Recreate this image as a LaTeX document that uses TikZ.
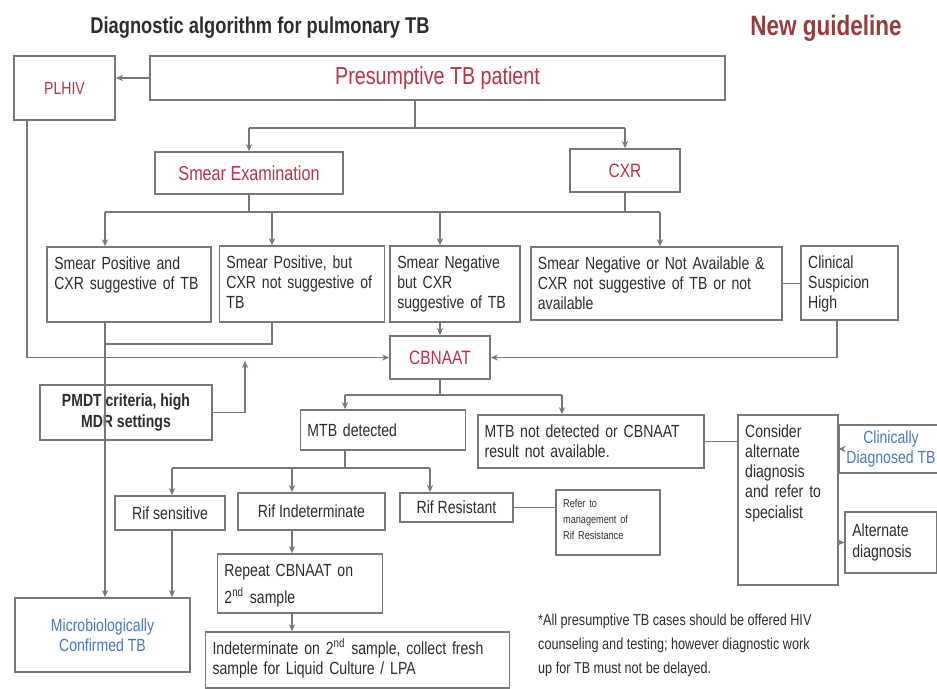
\documentclass[tikz,border=0pt]{standalone}
\usepackage{fontspec}
\setmainfont{Liberation Sans}[FakeStretch=0.8]
\usetikzlibrary{arrows.meta, positioning}
\definecolor{boxgray}{RGB}{120,120,120}
\definecolor{tbred}{RGB}{185,50,70}
\definecolor{guidered}{RGB}{150,60,60}
\definecolor{tbblue}{RGB}{70,120,190}
\definecolor{txtgray}{RGB}{45,45,45}

\tikzstyle{box} = [rectangle, draw=boxgray, line width=1pt, text=txtgray,
    font=\fontsize{10}{11.5}\selectfont, inner xsep=4pt]
\tikzstyle{cbox} = [box, align=center]
\tikzstyle{lbox} = [box, align=left, text height=7.5pt, inner ysep=5pt]
\tikzstyle{line} = [draw=boxgray, line width=0.8pt]
\tikzstyle{arrow} = [line, -{Stealth[length=4pt,width=3.5pt]}]

\begin{document}
\begin{tikzpicture}[x=0.02cm, y=-0.02cm]
    \useasboundingbox (0,0) rectangle (937,689);

        % Titles
        \node (title) [text=txtgray, font=\fontsize{13}{15}\selectfont\bfseries] at (260,28) {Diagnostic algorithm for pulmonary TB};
        \node (guide) [text=guidered, font=\fontsize{16}{18}\selectfont\bfseries] at (826,28) {New guideline};

        % Nodes
        \node (plhiv) [cbox, text=tbred, minimum width=2.02cm, minimum height=1.28cm] at (64.5,88) {PLHIV};
        \node (pres) [cbox, text=tbred, font=\fontsize{14}{16}\selectfont, minimum width=11.5cm, minimum height=0.88cm] at (437.5,78) {Presumptive TB patient};

        \node (smear) [cbox, text=tbred, font=\fontsize{11.5}{13}\selectfont, minimum width=3.76cm, minimum height=0.84cm] at (249,173) {Smear Examination};
        \node (cxr) [cbox, text=tbred, font=\fontsize{11}{13}\selectfont, minimum width=2.2cm, minimum height=0.86cm] at (625,170.5) {CXR};

        \node (sp1) [lbox, text width=85pt, text depth=25pt] at (129,284.5) {Smear Positive and\\CXR suggestive of TB};
        \node (sp2) [lbox, text width=86pt, text depth=25.6pt] at (302,284) {Smear Positive, but\\CXR not suggestive of\\TB};
        \node (sn1) [lbox, text width=65.7pt, text depth=25.6pt] at (455,284) {Smear Negative\\but CXR\\suggestive of TB};
        \node (sn2) [lbox, text width=135pt, text depth=23.9pt] at (656.5,283.5) {Smear Negative or Not Available \&\\CXR not suggestive of TB or not\\available};
        \node (clin) [lbox, text width=47pt, text depth=24.5pt] at (849.5,283) {Clinical\\Suspicion\\High};

        \node (cbnaat) [cbox, text=tbred, font=\fontsize{11}{13}\selectfont, minimum width=2cm, minimum height=0.86cm] at (440,357.5) {CBNAAT};
        \node (pmdt) [cbox, font=\fontsize{10}{11.5}\selectfont\bfseries, minimum width=3.44cm, minimum height=1.1cm] at (126,412.5) {PMDT criteria, high\\MDR settings};

        \node (mtbd) [box, align=left, text width=86pt, minimum height=0.8cm] at (383,430) {MTB detected};
        \node (mtbn) [lbox, text width=121pt, text depth=12.5pt] at (591,441.5) {MTB not detected or CBNAAT\\result not available.};
        \node (cons) [lbox, text width=48.7pt, text depth=78.9pt] at (788,500) {Consider\\alternate\\diagnosis\\and refer to\\specialist};
        \node (clindx) [cbox, text=tbblue, minimum width=1.8cm, minimum height=0.92cm] at (891,449) {Clinically\\Diagnosed TB};
        \node (altdx) [box, align=left, text width=44pt, minimum height=1.22cm] at (891,542.5) {Alternate\\diagnosis};

        \node (rifs) [cbox, minimum width=2.2cm, minimum height=0.68cm] at (170,513) {Rif sensitive};
        \node (rifi) [cbox, minimum width=2.94cm, minimum height=0.74cm] at (311.5,511.5) {Rif Indeterminate};
        \node (rifr) [cbox, minimum width=2.26cm, minimum height=0.58cm] at (456.5,507.5) {Rif Resistant};
        \node (refer) [box, align=left, font=\fontsize{6.5}{9}\selectfont, text width=51pt, text height=5pt, text depth=21.8pt, inner ysep=5pt] at (608,522.5) {Refer to\\management of\\Rif Resistance};

        \node (micro) [cbox, text=tbblue, minimum width=3.5cm, minimum height=1.48cm] at (102.5,635) {Microbiologically\\Confirmed TB};
        \node (repeat) [lbox, text width=86pt, text depth=16pt] at (300,583.5) {Repeat CBNAAT on\\[4pt]2\textsuperscript{nd} sample};
        \node (indet) [lbox, text width=165pt, text depth=14.2pt] at (357.5,660) {Indeterminate on 2\textsuperscript{nd} sample, collect fresh\\sample for Liquid Culture / LPA};

        \node (note) [anchor=north west, align=left, text=txtgray, font=\fontsize{9}{13.5}\selectfont] at (532,608) {*All presumptive TB cases should be offered HIV\\counseling and testing; however diagnostic work\\up for TB must not be delayed.};

        % Connectors
        \coordinate (bus1) at (415,128);
        \draw [arrow] (pres.west) -- (pres.west -| plhiv.east);
        \draw [line] (pres.south -| bus1) -- (bus1);
        \draw [line] (bus1 -| smear) -- (bus1 -| cxr);
        \draw [arrow] (bus1 -| smear) -- (smear.north);
        \draw [arrow] (bus1 -| cxr) -- (cxr.north);

        \coordinate (bus2) at (440,212);
        \coordinate (d1) at (105,212);
        \coordinate (d2) at (272,212);
        \coordinate (d4) at (660,212);
        \draw [line] (smear.south) -- (bus2 -| smear);
        \draw [line] (cxr.south) -- (bus2 -| cxr);
        \draw [line] (d1) -- (d4);
        \draw [arrow] (d1) -- (d1 |- sp1.north);
        \draw [arrow] (d2) -- (d2 |- sp2.north);
        \draw [arrow] (bus2) -- (bus2 |- sn1.north);
        \draw [arrow] (d4) -- (d4 |- sn2.north);

        \coordinate (j1) at (105,344);
        \coordinate (h1) at (27,0);
        \coordinate (h2) at (837,0);
        \coordinate (p1) at (245,0);
        \draw [line] (sp2.south -| d2) |- (j1);
        \draw [arrow] (sp1.south -| d1) -- (micro.north -| d1);
        \draw [arrow] (plhiv.south -| h1) |- (cbnaat.west);
        \draw [arrow] (pmdt.east) -| ([yshift=-2pt]p1 |- cbnaat.west);
        \draw [arrow] (sn1.south -| cbnaat) -- (cbnaat.north);
        \draw [line] (sn2.east) -- (sn2.east -| clin.west);
        \draw [arrow] (clin.south -| h2) |- (cbnaat.east);

        \coordinate (bus3) at (440,395);
        \coordinate (d5) at (345,395);
        \coordinate (d6) at (562,395);
        \draw [line] (cbnaat.south) -- (bus3);
        \draw [line] (d5) -- (d6);
        \draw [arrow] (d5) -- (d5 |- mtbd.north);
        \draw [arrow] (d6) -- (d6 |- mtbn.north);
        \draw [line] (mtbn.east) -- (mtbn.east -| cons.west);
        \draw [arrow] (cons.east |- clindx) -- (clindx.west);
        \draw [arrow] (cons.east |- altdx) -- (altdx.west);

        \coordinate (bus4) at (345,468);
        \coordinate (d7) at (172,468);
        \coordinate (d8) at (292,468);
        \coordinate (d9) at (430,468);
        \draw [line] (mtbd.south -| bus4) -- (bus4);
        \draw [line] (d7) -- (d9);
        \draw [arrow] (d7) -- (d7 |- rifs.north);
        \draw [arrow] (d8) -- (d8 |- rifi.north);
        \draw [arrow] (d9) -- (d9 |- rifr.north);
        \draw [line] (rifr.east) -- (rifr.east -| refer.west);
        \draw [arrow] (rifs.south -| d7) -- (micro.north -| d7);
        \draw [arrow] (rifi.south -| d8) -- (repeat.north -| d8);
        \draw [arrow] (repeat.south -| d8) -- (indet.north -| d8);

\end{tikzpicture}
\end{document}
